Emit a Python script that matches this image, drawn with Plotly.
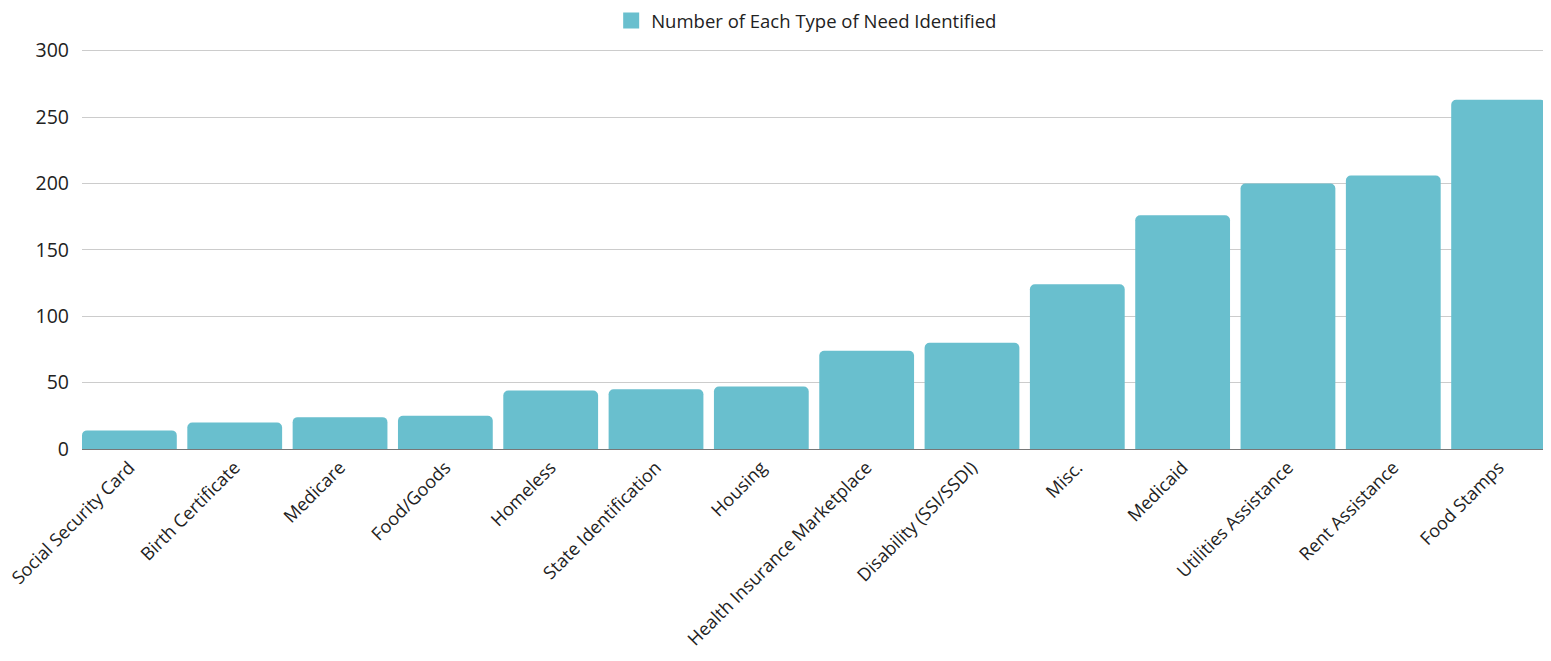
import plotly.graph_objects as go

categories = [
    "Social Security Card", "Birth Certificate", "Medicare", "Food/Goods",
    "Homeless", "State Identification", "Housing", "Health Insurance Marketplace",
    "Disability (SSI/SSDI)", "Misc.", "Medicaid", "Utilities Assistance",
    "Rent Assistance", "Food Stamps",
]
values = [14, 20, 24, 25, 44, 45, 47, 74, 80, 124, 176, 200, 206, 263]
series_name = "Number of Each Type of Need Identified"
y_ticks = [0, 50, 100, 150, 200, 250, 300]

FONT = "Open Sans"
BAR_COLOR = "#69bfce"
TEXT = "#222222"
BARGAP = 0.1

fig = go.Figure()
fig.add_trace(go.Bar(
    x=categories,
    y=values,
    name=series_name,
    marker=dict(color=BAR_COLOR, line=dict(width=0), cornerradius=5),
    showlegend=False,
))
# legend entry with a larger square swatch
fig.add_trace(go.Scatter(
    x=[None], y=[None],
    mode="markers",
    name=series_name,
    marker=dict(symbol="square", size=22, color=BAR_COLOR),
    showlegend=True,
    hoverinfo="skip",
))

n = len(categories)
fig.update_layout(
    width=1543,
    height=653,
    margin=dict(l=74, r=5, t=40, b=212),
    paper_bgcolor="white",
    plot_bgcolor="white",
    bargap=BARGAP,
    font=dict(family=FONT, size=18, color=TEXT),
    legend=dict(
        orientation="h",
        x=0.495, xanchor="center",
        yref="container",
        y=0.980, yanchor="middle",
        font=dict(family=FONT, size=18.5, color=TEXT),
        itemsizing="trace",
    ),
    xaxis=dict(
        range=[-0.5 + BARGAP / 2, n - 0.5 - BARGAP / 2],
        tickangle=-45,
        tickfont=dict(family=FONT, size=18, color=TEXT),
        showgrid=False,
        showline=True,
        linecolor="#777777",
        linewidth=1,
        ticks="",
        automargin=False,
    ),
    yaxis=dict(
        range=[0, 302],
        tickvals=y_ticks,
        tickfont=dict(family=FONT, size=19.5, color=TEXT),
        showgrid=True,
        gridcolor="#cccccc",
        gridwidth=1,
        zeroline=False,
        showline=False,
        ticks="",
        ticklabelstandoff=12,
        automargin=False,
    ),
)

fig.write_html("out.html")
